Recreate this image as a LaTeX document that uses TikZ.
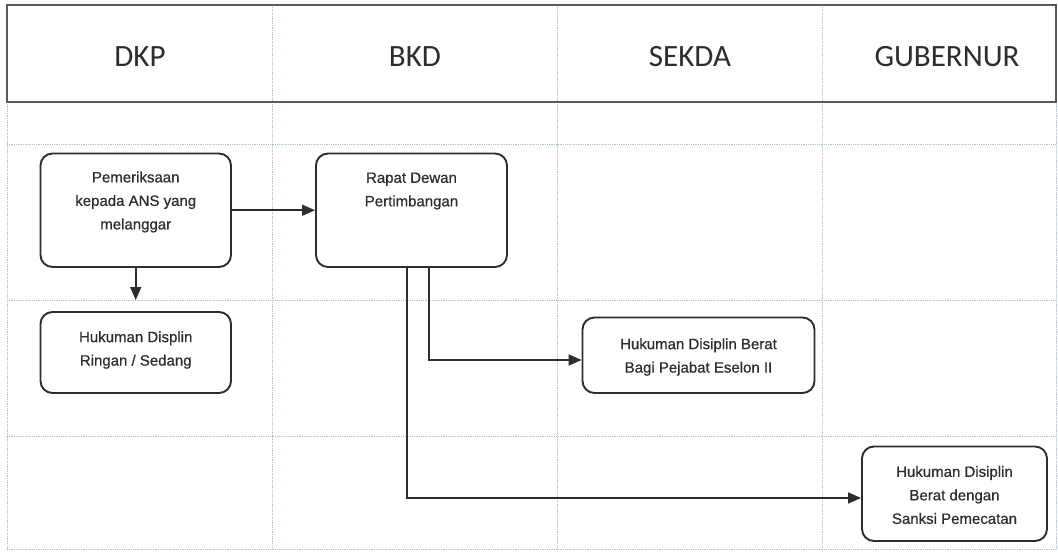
\documentclass[tikz,border=0pt]{standalone}
\usepackage{fontspec}
\setmainfont{Liberation Sans}
\newfontfamily\hdrfont{Carlito}
\newfontfamily\boxfont[FakeBold=0.6]{Liberation Sans}
\usetikzlibrary{arrows.meta}
\definecolor{gridc}{RGB}{170,192,228}
\definecolor{ink}{RGB}{45,45,45}
\definecolor{hdrc}{RGB}{90,90,90}
\begin{document}
\begin{tikzpicture}[x=1pt,y=-1pt,
  box/.style={draw=ink, line width=1.9pt, rounded corners=12pt, fill=white, inner sep=0pt},
  txt/.style={font=\boxfont\fontsize{15}{23.5}\selectfont, text=ink, align=center, inner sep=0pt},
  hd/.style={font=\hdrfont\fontsize{31}{36}\selectfont, text=ink, inner sep=0pt},
  conn/.style={draw=ink, line width=1.7pt, -{Triangle[length=13pt,width=11pt]}},
  gridl/.style={draw=gridc, line width=0.8pt, densely dotted}]
\useasboundingbox (0,0) rectangle (1058,552);
\fill[white] (0,0) rectangle (1058,552);
% grid lines
\draw[gridl] (7,144) -- (1056,144);
\draw[gridl] (7,300) -- (1056,300);
\draw[gridl] (7,436) -- (1056,436);
\draw[gridl] (7,549) -- (1056,549);
\draw[gridl] (7,102) -- (7,549);
\draw[gridl] (1056,102) -- (1056,549);
\draw[gridl] (272,5) -- (272,549);
\draw[gridl] (557,5) -- (557,549);
\draw[gridl] (822,5) -- (822,549);
% header
\draw[hdrc, line width=1.6pt] (7,5) rectangle (1056,102);
\node[hd] (hDKP) at (140,57) {DKP};
\node[hd] (hBKD) at (415,57) {BKD};
\node[hd] (hSEK) at (690,57) {SEKDA};
\node[hd] (hGUB) at (947,57) {GUBERNUR};
% boxes
\node[box, minimum width=190.5pt, minimum height=113.5pt] (b1) at (135.75,210.25) {};
\node[box, minimum width=191pt, minimum height=113.5pt] (b2) at (411.5,210.25) {};
\node[box, minimum width=190.5pt, minimum height=81pt] (b3) at (135.75,352.5) {};
\node[box, minimum width=232pt, minimum height=75.5pt] (b4) at (698.5,355.25) {};
\node[box, minimum width=185pt, minimum height=94.5pt] (b5) at (954.5,493.75) {};
% texts
\node[txt] (t1) at (135.75,202) {Pemeriksaan\\kepada ANS yang\\melanggar};
\node[txt] (t2) at (411.5,191) {Rapat Dewan\\Pertimbangan};
\node[txt] (t3) at (135.75,350) {Hukuman Displin\\Ringan / Sedang};
\node[txt] (t4) at (698.5,357) {Hukuman Disiplin Berat\\Bagi Pejabat Eselon II};
\node[txt] (t5) at (954.5,495) {Hukuman Disiplin\\Berat dengan\\Sanksi Pemecatan};
% connectors
\coordinate (d1) at (135.75,300);
\coordinate (k1) at (429,360);
\coordinate (k2) at (407,498);
\draw[conn] (b1.east) -- (b2.west);
\draw[conn] (b1.south) -- (d1);
\draw[conn] (b2.south -| k1) |- (b4.west |- k1);
\draw[conn] (b2.south -| k2) |- (b5.west |- k2);
\end{tikzpicture}
\end{document}
